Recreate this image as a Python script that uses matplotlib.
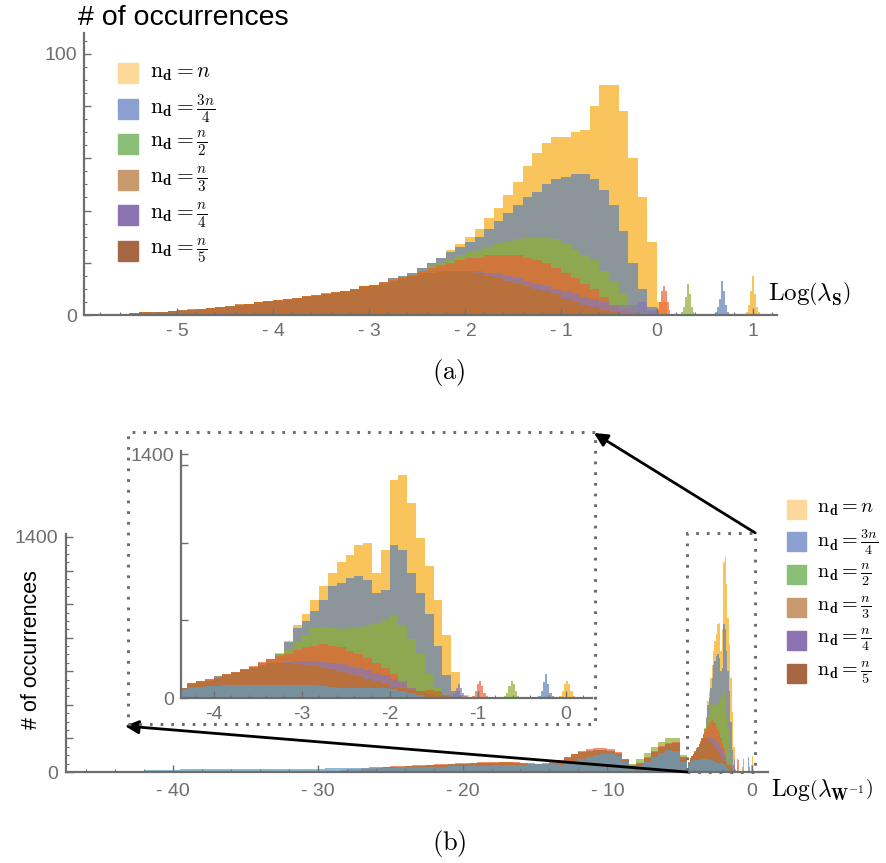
import numpy as np
import matplotlib
matplotlib.use("Agg")
import matplotlib.pyplot as plt
from matplotlib.patches import Rectangle, ConnectionPatch
from matplotlib.ticker import FixedLocator, MultipleLocator, FuncFormatter

plt.rcParams['mathtext.fontset'] = 'cm'
plt.rcParams['font.family'] = ['Liberation Sans', 'DejaVu Sans']

# ---- series names / colours ----
labels = [r'$\mathrm{n}_{\mathbf{d}} = n$',
          r'$\mathrm{n}_{\mathbf{d}} = \frac{3n}{4}$',
          r'$\mathrm{n}_{\mathbf{d}} = \frac{n}{2}$',
          r'$\mathrm{n}_{\mathbf{d}} = \frac{n}{3}$',
          r'$\mathrm{n}_{\mathbf{d}} = \frac{n}{4}$',
          r'$\mathrm{n}_{\mathbf{d}} = \frac{n}{5}$']
bar_colors = ['#F7AC15', '#5E81B5', '#8FB032', '#EB6235', '#8778B3', '#C56E1A']
extra_color = '#5D9EC7'
swatch_colors = ['#FCD99A', '#8B9FD0', '#8BBF78', '#C99A6E', '#8B72B0', '#A66644']
axis_gray = '#6e6e6e'

# ---- panel (a): histogram of Log(lambda_S), bins of 0.1 starting at -5.9 ----
a_start, a_width = -5.9, 0.1
a_n = [0, 0, 0.3, 0.5, 0.5, 1, 1, 1, 1.5, 1.5, 2, 2, 2.5, 3, 3, 4, 4, 5, 5, 5.5,
       6, 6, 7, 7, 8, 8.5, 9, 10, 11, 11, 12, 14, 15, 16, 18,
       20, 22, 25, 27, 30, 33, 37, 41, 46, 51, 57, 62, 66, 68, 68, 70, 71, 80, 88, 88,
       78, 60, 45, 28, 5]
a_3n4 = [0, 0, 0.3, 0.4, 0.6, 1, 1, 1.2, 1.5, 1.8, 2, 2.2, 2.5, 3, 3.3, 4, 4.2, 5, 5.2, 5.5,
         6, 6.4, 7, 7.4, 8, 8.6, 9, 10, 11, 11.5, 12.5, 14, 15, 16, 18,
         20, 22, 24, 26, 28, 30, 33, 36, 39, 42, 45, 47, 50, 52, 53, 54, 54, 52, 48, 42,
         32, 20, 10, 3, 0]
a_n2 = [0, 0, 0.2, 0.5, 0.5, 0.8, 1, 1, 1.4, 1.6, 2, 2, 2.4, 2.8, 3.2, 3.8, 4.2, 4.8, 5, 5.6,
        6, 6.2, 6.8, 7.2, 7.8, 8.4, 9, 9.8, 10.5, 11, 12, 13.5, 14.5, 15.5, 17,
        19, 20, 21, 23, 24, 25, 26, 27, 28, 29, 30, 30, 30, 29, 27, 25, 23, 21, 17, 13,
        8, 4, 1, 0, 0]
a_n3 = [0, 0.2, 0.3, 0.5, 0.6, 1, 1.1, 1.2, 1.5, 1.7, 2.1, 2.2, 2.6, 3, 3.2, 4, 4.3, 5, 5.3, 5.8,
        6.2, 6.5, 7.2, 7.5, 8.2, 8.8, 9.3, 10, 11, 11.5, 12.5, 13.5, 14.5, 15.5, 17,
        18, 19, 20, 21, 22, 22, 23, 23, 23, 23, 22, 21, 20, 18, 16, 14, 12, 10, 7, 4,
        2, 1, 0, 0, 0]
a_n4 = [0, 0, 0.2, 0.4, 0.5, 0.8, 1, 1.1, 1.4, 1.5, 1.9, 2, 2.3, 2.8, 3, 3.7, 4, 4.6, 5, 5.3,
        5.8, 6, 6.6, 7, 7.6, 8, 8.6, 9.4, 10, 10.6, 11.5, 12.5, 13.5, 14.5, 15.5,
        16, 16, 17, 17, 17, 17, 16, 16, 15, 14, 13, 12, 11, 10, 9, 8, 7, 6, 5, 4,
        4, 4, 5, 2, 0]
a_n5 = [0, 0.2, 0.3, 0.5, 0.7, 1, 1.2, 1.3, 1.6, 1.8, 2.2, 2.3, 2.7, 3.1, 3.4, 4.1, 4.4, 5.1, 5.4, 5.9,
        6.3, 6.6, 7.3, 7.6, 8.3, 8.8, 9.3, 10.1, 11, 11.4, 12.3, 13.2, 14, 15, 16,
        16, 17, 17, 17, 17, 16, 15, 14, 13, 12, 11, 10, 9, 8, 6, 5, 4, 3, 2, 1,
        0, 0, 0, 0, 0]
# isolated narrow peaks (bins of 0.02)
a_peak_width = 0.02
a_peak_n, a_peak_n_start = [1, 4, 9, 15, 8, 3, 1], 0.93
a_peak_3n4, a_peak_3n4_start = [1, 3, 6, 13, 9, 4, 1], 0.61
a_peak_n2, a_peak_n2_start = [1, 3, 7, 12, 8, 3, 1], 0.25
a_peak_n3, a_peak_n3_start = [2, 5, 9, 11, 9, 5, 2], 0.0

# ---- panel (b): histogram of Log(lambda_W^-1) ----
# coarse part, bins of 0.5 starting at -43
b_out_width = 0.5
b_out_extra_start = -43.0
b_out_extra = [0, 5, 9, 12, 13, 14, 14, 15, 15, 15,
               16, 16, 16, 17, 17, 17, 17, 18, 18, 18,
               18, 19, 19, 19, 20, 20, 20, 21, 21, 22,
               22, 23, 23, 24, 25, 25, 26, 27, 28, 28,
               29, 30, 31, 32, 33, 34, 35, 36, 37, 38,
               39, 40, 41, 42, 44, 46, 48, 50, 45, 40,
               50, 65, 80, 92, 100, 105, 105, 95, 60, 25,
               35, 60, 90, 115, 130, 125, 60]
b_out_n3_start = -29.0
b_out_n3 = [5, 10, 15, 20, 25, 28, 30, 32, 34, 36, 38, 40, 42, 44, 46, 48, 50, 52, 54, 56,
            57, 58, 59, 60, 60, 58, 55, 52, 50, 52, 58, 70, 90, 110, 125, 135, 140, 140, 135, 120,
            80, 40, 55, 90, 125, 155, 175, 180, 90]
b_out_n4_start = -27.0
b_out_n4 = [15, 20, 24, 27, 29, 31, 33, 35, 37, 39, 41, 43, 45, 47, 49, 51, 52, 53, 54, 55,
            55, 53, 50, 48, 46, 48, 55, 68, 88, 108, 120, 128, 132, 130, 125, 110, 72, 38, 50, 85,
            118, 148, 165, 170, 85]
b_out_n5_start = -28.0
b_out_n5 = [4, 8, 14, 20, 24, 27, 30, 32, 34, 36, 38, 40, 42, 44, 46, 48, 50, 52, 54, 55,
            56, 57, 57, 55, 52, 49, 47, 50, 56, 66, 85, 105, 118, 128, 132, 132, 126, 112, 75, 38,
            52, 86, 120, 150, 168, 172, 88]
b_out_n2_start = -9.0
b_out_n2 = [30, 45, 75, 115, 150, 180, 205, 205, 100]

# fine part (also shown in the inset), bins of 0.1 starting at -4.5
b_fine_start, b_fine_width = -4.5, 0.1
b_fine_n = [25, 60, 85, 95, 110, 125, 140, 150, 165, 180, 200, 225, 260, 330, 420, 480, 560, 640,
            720, 780, 820, 880, 890, 720, 850, 1250, 1280, 1120, 920, 760, 560, 360, 150, 20]
b_fine_3n4 = [25, 60, 85, 95, 110, 125, 140, 150, 165, 180, 200, 225, 255, 320, 400, 440, 500, 560,
              640, 660, 690, 700, 680, 600, 620, 880, 850, 720, 600, 480, 300, 130, 40, 5]
b_fine_n2 = [25, 60, 85, 95, 105, 120, 135, 150, 165, 180, 200, 225, 250, 280, 320, 360, 400, 410,
             400, 395, 400, 410, 420, 430, 450, 470, 420, 340, 250, 140, 60, 15]
b_fine_n3 = [25, 60, 85, 95, 105, 120, 135, 150, 165, 185, 205, 225, 240, 255, 275, 290, 300, 310,
             300, 290, 270, 250, 230, 200, 170, 140, 100, 60, 30, 15, 5]
b_fine_n4 = [25, 55, 80, 90, 100, 115, 130, 145, 160, 175, 185, 195, 200, 205, 210, 210, 210, 205,
             200, 195, 185, 175, 160, 145, 130, 110, 90, 60, 40, 25, 15, 10, 5]
b_fine_n5 = [25, 55, 80, 90, 100, 115, 130, 145, 160, 175, 190, 200, 200, 200, 195, 190, 185, 175,
             165, 150, 140, 125, 110, 95, 80, 65, 55, 45, 40, 45, 40, 20, 5]
b_fine_extra = [20, 50, 65, 65, 70, 70, 72, 72, 74, 74, 75, 75, 76, 76, 75, 75, 72, 70,
                65, 60, 58, 56, 55, 55, 55, 50, 40, 28, 15, 5]
# isolated narrow peaks (bins of 0.025)
b_peak_width = 0.025
b_peak_n, b_peak_n_start = [10, 40, 80, 95, 80, 40, 10], -0.07
b_peak_3n4, b_peak_3n4_start = [10, 40, 90, 140, 80, 30, 10], -0.31
b_peak_n2, b_peak_n2_start = [10, 30, 70, 100, 80, 40, 10], -0.70
b_peak_n3, b_peak_n3_start = [10, 40, 80, 100, 70, 30, 10], -1.06
b_peak_n4, b_peak_n4_start = [10, 30, 60, 80, 60, 30, 10], -1.30


def hist(ax, start, width, heights, color, alpha=0.7):
    edges = start + width * np.arange(len(heights) + 1)
    ax.stairs(heights, edges, fill=True, color=color, alpha=alpha, linewidth=0)


def x_fmt(v, pos):
    if abs(v) < 1e-9:
        return '0'
    return f'- {abs(v):g}' if v < 0 else f'{v:g}'


def style_axes(ax):
    for s in ['top', 'right']:
        ax.spines[s].set_visible(False)
    for s in ['left', 'bottom']:
        ax.spines[s].set_color(axis_gray)
        ax.spines[s].set_linewidth(1.6)
    ax.tick_params(which='both', direction='in', colors=axis_gray,
                   labelcolor=axis_gray, labelsize=14)
    ax.tick_params(which='major', length=5, width=1)
    ax.tick_params(which='minor', length=2.5, width=0.8)
    ax.set_facecolor('none')


def px(x, y):
    return x / 886, 1 - y / 863


fig = plt.figure(figsize=(8.86, 8.63), dpi=100)

# ================= panel (a) =================
ax_a = fig.add_axes([84 / 886, 1 - 315 / 863, (777 - 84) / 886, (315 - 33) / 863])
a_series = [a_n, a_3n4, a_n2, a_n3, a_n4, a_n5]
for vals, c in zip(a_series, bar_colors):
    hist(ax_a, a_start, a_width, vals, c)
for vals, st, c in [(a_peak_n, a_peak_n_start, bar_colors[0]),
                    (a_peak_3n4, a_peak_3n4_start, bar_colors[1]),
                    (a_peak_n2, a_peak_n2_start, bar_colors[2]),
                    (a_peak_n3, a_peak_n3_start, bar_colors[3])]:
    hist(ax_a, st, a_peak_width, vals, c)
ax_a.set_xlim(-5.97, 1.25)
ax_a.set_ylim(0, 108)
style_axes(ax_a)
ax_a.xaxis.set_major_locator(FixedLocator([-5, -4, -3, -2, -1, 0, 1]))
ax_a.xaxis.set_minor_locator(MultipleLocator(0.2))
ax_a.xaxis.set_major_formatter(FuncFormatter(x_fmt))
ax_a.yaxis.set_major_locator(FixedLocator([0, 20, 40, 60, 80, 100]))
ax_a.yaxis.set_minor_locator(MultipleLocator(5))
ax_a.yaxis.set_major_formatter(FuncFormatter(lambda v, p: f'{v:g}' if v in (0, 100) else ''))
ax_a.tick_params(axis='x', pad=6)
ax_a.tick_params(axis='y', pad=5)

fig.text(*px(78, 18), '# of occurrences', fontsize=20.5, ha='left', va='center')
fig.text(*px(768, 294), r'$\mathrm{Log}\left(\lambda_{\mathbf{S}}\right)$', fontsize=18,
         ha='left', va='center')
fig.text(*px(449, 372), r'$(\mathrm{a})$', fontsize=19, ha='center', va='center')

for i, (lab, c) in enumerate(zip(labels, swatch_colors)):
    cy = 73 + 35.6 * i
    fig.patches.append(Rectangle(px(118, cy + 10), 20 / 886, 20 / 863,
                                 transform=fig.transFigure, color=c))
    fig.text(*px(150, cy), lab, fontsize=15.5, ha='left', va='center')

# ================= panel (b) main =================
ax_b = fig.add_axes([66 / 886, 1 - 772 / 863, (768 - 66) / 886, (772 - 533.6) / 863])
fine_series = [b_fine_n, b_fine_3n4, b_fine_n2, b_fine_n3, b_fine_n4, b_fine_n5]
out_series = [None, None, (b_out_n2, b_out_n2_start), (b_out_n3, b_out_n3_start),
              (b_out_n4, b_out_n4_start), (b_out_n5, b_out_n5_start)]
peak_series = [(b_peak_n, b_peak_n_start), (b_peak_3n4, b_peak_3n4_start),
               (b_peak_n2, b_peak_n2_start), (b_peak_n3, b_peak_n3_start),
               (b_peak_n4, b_peak_n4_start), None]


def draw_b(ax, with_outer):
    for i, c in enumerate(bar_colors):
        if with_outer and out_series[i] is not None:
            vals, st = out_series[i]
            hist(ax, st, b_out_width, vals, c)
        hist(ax, b_fine_start, b_fine_width, fine_series[i], c)
        if peak_series[i] is not None:
            vals, st = peak_series[i]
            hist(ax, st, b_peak_width, vals, c)
    if with_outer:
        hist(ax, b_out_extra_start, b_out_width, b_out_extra, extra_color)
    hist(ax, b_fine_start, b_fine_width, b_fine_extra, extra_color)


draw_b(ax_b, True)
ax_b.set_xlim(-47.4, 1.1)
ax_b.set_ylim(0, 1420)
style_axes(ax_b)
ax_b.xaxis.set_major_locator(FixedLocator([-40, -30, -20, -10, 0]))
ax_b.xaxis.set_minor_locator(MultipleLocator(2))
ax_b.xaxis.set_major_formatter(FuncFormatter(x_fmt))
ax_b.yaxis.set_major_locator(MultipleLocator(200))
ax_b.yaxis.set_minor_locator(MultipleLocator(50))
ax_b.yaxis.set_major_formatter(FuncFormatter(lambda v, p: f'{v:g}' if v in (0, 1400) else ''))
ax_b.tick_params(axis='x', pad=8)
ax_b.tick_params(axis='y', pad=6)

fig.text(*px(32, 650), '# of occurrences', fontsize=15.5, rotation=90, ha='center', va='center')
fig.text(*px(771, 790), r'$\mathrm{Log}\left(\lambda_{\mathbf{W}^{-1}}\right)$', fontsize=17,
         ha='left', va='center')
fig.text(*px(449, 843), r'$(\mathrm{b})$', fontsize=19, ha='center', va='center')

for i, (lab, c) in enumerate(zip(labels, swatch_colors)):
    cy = 509 + 32.8 * i
    fig.patches.append(Rectangle(px(787, cy + 9.5), 19 / 886, 19 / 863,
                                 transform=fig.transFigure, color=c))
    fig.text(*px(817, cy), lab, fontsize=14.5, ha='left', va='center')

# ================= inset =================
ax_in = fig.add_axes([181 / 886, 1 - 698 / 863, (592 - 181) / 886, (698 - 450.6) / 863])
draw_b(ax_in, False)
ax_in.set_xlim(-4.37, 0.30)
ax_in.set_ylim(0, 1420)
style_axes(ax_in)
ax_in.xaxis.set_major_locator(FixedLocator([-4, -3, -2, -1, 0]))
ax_in.xaxis.set_minor_locator(MultipleLocator(0.2))
ax_in.xaxis.set_major_formatter(FuncFormatter(lambda v, p: f'{int(round(v))}'))
ax_in.yaxis.set_major_locator(FixedLocator([0, 445, 890, 1335, 1400]))
ax_in.yaxis.set_major_formatter(FuncFormatter(lambda v, p: f'{v:g}' if v in (0, 1400) else ''))
ax_in.tick_params(axis='x', pad=6)
ax_in.tick_params(axis='y', pad=5)

# zoom boxes and arrows
dot = dict(fill=False, edgecolor=axis_gray, linewidth=2.2, linestyle=(0, (0.9, 2.6)))
ax_b.add_patch(Rectangle((-4.5, 0), 4.72, 1424, clip_on=False, **dot))
bx0, by0 = px(128, 724)
bx1, by1 = px(595, 432)
fig.patches.append(Rectangle((bx0, by0), bx1 - bx0, by1 - by0, transform=fig.transFigure, **dot))

arrow_kw = dict(arrowstyle='-|>', mutation_scale=20, color='black', linewidth=2)
fig.add_artist(ConnectionPatch(xyA=(0.22, 1424), coordsA=ax_b.transData,
                               xyB=px(594, 433), coordsB=fig.transFigure, **arrow_kw))
fig.add_artist(ConnectionPatch(xyA=(-4.5, 0), coordsA=ax_b.transData,
                               xyB=px(125, 726), coordsB=fig.transFigure, **arrow_kw))

fig.savefig('out.png', dpi=100)
